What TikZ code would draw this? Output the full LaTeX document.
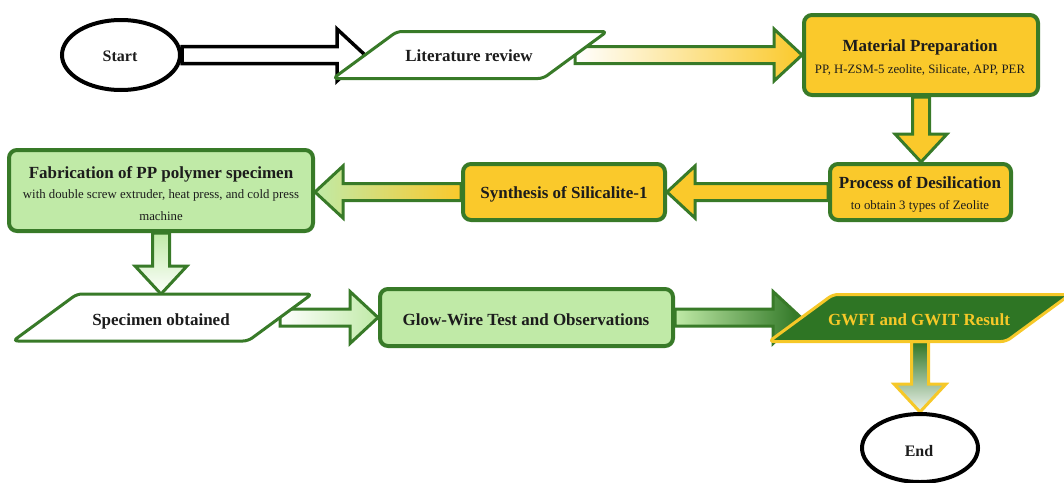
\documentclass[tikz,border=0pt]{standalone}
\usepackage{fontspec}
\setmainfont{Liberation Serif}
\usetikzlibrary{calc,shapes.geometric}
\pgfdeclarelayer{back}
\pgfdeclarelayer{bg}
\pgfsetlayers{back,bg,main}
\definecolor{gline}{RGB}{56,122,40}
\definecolor{yfill}{RGB}{250,201,43}
\definecolor{lgfill}{RGB}{192,234,167}
\definecolor{dgfill}{RGB}{46,117,36}
\definecolor{yline}{RGB}{246,200,40}
\definecolor{txt}{RGB}{28,28,28}
% horizontal block arrow: style, from, to
\newcommand\hblk[3]{\path[#1] let \p1=(#2), \p2=(#3), \n1={sign(\x2-\x1)} in
  (\x1,{\y1-8.5pt}) -- ({\x2-28pt*(\n1)},{\y1-8.5pt}) -- ({\x2-28pt*(\n1)},{\y1-26pt})
  -- (\x2,\y1) -- ({\x2-28pt*(\n1)},{\y1+26pt}) -- ({\x2-28pt*(\n1)},{\y1+8.5pt})
  -- (\x1,{\y1+8.5pt}) -- cycle;}
% vertical block arrow
\newcommand\vblk[3]{\path[#1] let \p1=(#2), \p2=(#3), \n1={sign(\y2-\y1)} in
  ({\x1-8.5pt},\y1) -- ({\x1-8.5pt},{\y2-28pt*(\n1)}) -- ({\x1-26pt},{\y2-28pt*(\n1)})
  -- (\x1,\y2) -- ({\x1+26pt},{\y2-28pt*(\n1)}) -- ({\x1+8.5pt},{\y2-28pt*(\n1)})
  -- ({\x1+8.5pt},\y1) -- cycle;}
% parallelogram: name, center, half width, style
\newcommand\parabox[4]{%
  \coordinate (#1) at (#2);
  \draw[#4] ($(#1)+(-#3+32,-23.5)$) -- ($(#1)+(#3+32,-23.5)$) -- ($(#1)+(#3-32,23.5)$) -- ($(#1)+(-#3-32,23.5)$) -- cycle;
  \coordinate (#1-l) at ($(#1)+(-#3,0)$);
  \coordinate (#1-r) at ($(#1)+(#3,0)$);
  \coordinate (#1-t) at ($(#1)+(0,-23.5)$);
  \coordinate (#1-b) at ($(#1)+(0,23.5)$);
}
\begin{document}
\begin{tikzpicture}[x=1pt,y=-1pt,
  tit/.style={font=\fontsize{17}{20}\selectfont\bfseries, text=txt, anchor=base, inner sep=0pt},
  subt/.style={font=\fontsize{12.8}{15}\selectfont, text=txt, anchor=base, inner sep=0pt},
  ybox/.style={draw=gline, line width=4pt, fill=yfill, rounded corners=8pt, inner sep=0pt},
  gbox/.style={draw=gline, line width=4pt, fill=lgfill, rounded corners=8pt, inner sep=0pt},
  ell/.style={ellipse, draw=black, line width=4pt, fill=white, inner sep=0pt},
  para/.style={draw=gline, line width=3pt, fill=white, rounded corners=5pt},
  paradark/.style={draw=yline, line width=3pt, fill=dgfill, rounded corners=5pt},
  arr/.style={draw=gline, line width=3pt, line join=miter},
  blk/.style={draw=black, line width=3.5pt, fill=white, line join=miter},
]
\begin{pgfonlayer}{back}
\fill[white] (0,0) rectangle (1064,482);
\end{pgfonlayer}
\useasboundingbox (0,0) rectangle (1064,482);

% nodes
\node[ell, minimum width=118pt, minimum height=70pt] (start) at (121,55) {};
\node[tit, font=\fontsize{16}{19}\selectfont\bfseries] (start-t) at (120,61.5) {Start};

\parabox{lit}{470,55}{105}{para}
\node[tit] (lit-x) at (469,61.5) {Literature review};

\node[ybox, minimum width=234pt, minimum height=80pt] (mat) at (921,55) {};
\node[tit] (mat-t) at (920,51.5) {Material Preparation};
\node[subt] (mat-s) at (920,73.5) {PP, H-ZSM-5 zeolite, Silicate, APP, PER};

\node[ybox, minimum width=181pt, minimum height=56pt] (proc) at (920.5,192) {};
\node[tit] (proc-t) at (920,188) {Process of Desilication};
\node[subt] (proc-s) at (920,209) {to obtain 3 types of Zeolite};

\node[ybox, minimum width=202pt, minimum height=56pt] (synth) at (564,192) {};
\node[tit] (synth-t) at (564,198) {Synthesis of Silicalite-1};

\node[gbox, minimum width=304pt, minimum height=81pt] (fab) at (161,190.5) {};
\node[tit] (fab-t) at (161,178) {Fabrication of PP polymer specimen};
\node[subt] (fab-s1) at (161,198.5) {with double screw extruder, heat press, and cold press};
\node[subt] (fab-s2) at (161,220) {machine};

\parabox{spec}{162.5,317.5}{117.5}{para}
\node[tit] (spec-x) at (161,325) {Specimen obtained};

\node[gbox, minimum width=293pt, minimum height=57pt] (glow) at (526.5,317.5) {};
\node[tit] (glow-t) at (526,325) {Glow-Wire Test and Observations};

\parabox{gwfi}{919.5,318}{118.5}{paradark}
\node[tit, text=yline] (gwfi-x) at (919,325) {GWFI and GWIT Result};

\node[ell, minimum width=116pt, minimum height=68pt] (end) at (920,448) {};
\node[tit, font=\fontsize{16}{19}\selectfont\bfseries] (end-t) at (919,456) {End};

% block arrows
\begin{pgfonlayer}{bg}
\hblk{blk}{start.east}{lit-l}
\hblk{arr, left color=white, right color=yfill}{lit-r}{mat.west}
\vblk{arr, fill=yfill}{mat.south}{proc.north}
\hblk{arr, fill=yfill}{proc.west}{synth.east}
\hblk{arr, left color=lgfill, right color=yfill}{synth.west}{fab.east}
\vblk{arr, top color=lgfill, bottom color=white}{fab.south}{fab.south |- spec-t}
\hblk{arr, left color=white, right color=lgfill}{spec-r |- glow.west}{glow.west}
\hblk{arr, left color=lgfill, right color=dgfill}{glow.east}{gwfi-l}
\vblk{arr, draw=yline, top color=dgfill, bottom color=dgfill!8}{end.north |- gwfi-b}{end.north}
\end{pgfonlayer}
\end{tikzpicture}
\end{document}
